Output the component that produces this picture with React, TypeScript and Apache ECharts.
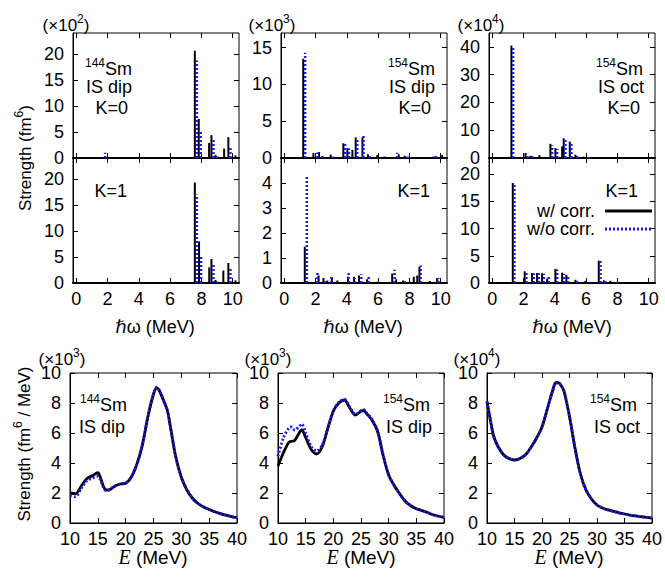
import React, { useEffect, useRef } from "react";
import * as echarts from "echarts";

const FONT = '"Liberation Sans", Arial, Helvetica, "DejaVu Sans", sans-serif';
const SERIF = '"Liberation Serif", "Times New Roman", serif';
const BLUE = "#1a1af0";

// ---- tick values ----
const X_TICKS_STICK = [0, 2, 4, 6, 8, 10];
const X_TICKS_CURVE = [10, 15, 20, 25, 30, 35, 40];
const Y_TICKS_A = [0, 5, 10, 15, 20];
const Y_TICKS_B1 = [0, 5, 10, 15];
const Y_TICKS_B2 = [0, 1, 2, 3, 4];
const Y_TICKS_C1 = [0, 10, 20, 30, 40];
const Y_TICKS_C2 = [0, 5, 10, 15, 20];
const Y_TICKS_CURVE = [0, 2, 4, 6, 8, 10];

// ---- 144Sm IS dip K=0 (x10^2 fm^6) ----
const A1_E_w = [7.58, 7.83, 8.49, 8.64, 8.9, 9.45, 9.72, 10.17];
const A1_S_w = [20.6, 7.5, 2.9, 4.4, 0.6, 1.8, 4.0, 0.5];
const A1_E_wo = [1.85, 7.71, 7.96, 8.77, 9.0, 9.85];
const A1_S_wo = [1.0, 18.7, 5.3, 3.7, 0.3, 1.9];

// ---- 144Sm IS dip K=1 ----
const A2_E_w = [7.58, 7.85, 8.5, 8.64, 8.9, 9.4, 9.72, 10.17];
const A2_S_w = [19.3, 8.0, 3.0, 4.6, 0.6, 2.4, 3.85, 0.5];
const A2_E_wo = [7.71, 7.98, 8.77, 9.0, 9.85];
const A2_S_wo = [17.0, 5.25, 3.7, 0.3, 2.7];

// ---- 154Sm IS dip K=0 (x10^3) ----
const B1_E_w = [1.22, 1.87, 2.23, 2.97, 3.78, 4.04, 4.36, 4.57, 5.0, 5.35, 5.95, 6.4, 7.32, 7.7, 9.55, 10.09];
const B1_S_w = [13.5, 0.7, 0.8, 0.45, 2.0, 1.35, 1.1, 2.8, 2.8, 0.5, 0.4, 0.2, 0.5, 0.3, 0.2, 0.4];
const B1_E_wo = [1.34, 2.13, 2.44, 3.1, 3.89, 4.14, 4.67, 5.07, 5.45, 7.22, 7.9, 9.7];
const B1_S_wo = [14.3, 0.75, 0.3, 0.2, 1.9, 1.3, 2.6, 3.0, 0.3, 0.7, 0.2, 0.3];

// ---- 154Sm IS dip K=1 ----
const B2_E_w = [1.32, 2.2, 2.51, 2.76, 3.05, 3.4, 4.08, 4.46, 4.78, 5.3, 5.95, 6.9, 7.15, 7.6, 8.28, 8.5, 8.64, 9.3, 9.77];
const B2_S_w = [1.45, 0.3, 0.2, 0.1, 0.2, 0.1, 0.25, 0.25, 0.3, 0.15, 0.05, 0.38, 0.15, 0.1, 0.25, 0.3, 0.65, 0.08, 0.2];
const B2_E_wo = [1.45, 2.13, 2.6, 3.02, 4.12, 4.5, 4.93, 5.4, 7.05, 7.7, 8.72, 9.85];
const B2_S_wo = [4.3, 0.4, 0.15, 0.25, 0.4, 0.2, 0.35, 0.25, 0.53, 0.1, 0.7, 0.2];

// ---- 154Sm IS oct K=0 (x10^4) ----
const C1_E_w = [1.23, 2.13, 2.45, 3.02, 3.72, 4.04, 4.47, 4.57, 4.96, 5.32, 5.85];
const C1_S_w = [40.5, 1.8, 0.8, 1.0, 5.1, 3.6, 4.2, 7.1, 5.9, 1.2, 0.5];
const C1_E_wo = [1.34, 2.25, 2.56, 3.83, 4.15, 4.68, 5.06, 5.43, 6.17];
const C1_S_wo = [40.0, 1.5, 0.8, 4.6, 3.2, 6.7, 5.5, 0.8, 0.3];

// ---- 154Sm IS oct K=1 ----
const C2_E_w = [1.32, 2.08, 2.55, 2.87, 3.19, 3.51, 4.04, 4.47, 4.74, 5.32, 5.96, 6.81, 7.13, 7.55];
const C2_S_w = [18.4, 2.15, 1.85, 1.85, 1.8, 0.8, 2.6, 1.9, 1.5, 0.6, 0.4, 4.1, 0.5, 0.4];
const C2_E_wo = [1.42, 2.19, 2.66, 2.98, 3.3, 3.62, 4.15, 4.58, 4.85, 5.43, 6.92, 7.24, 7.98];
const C2_S_wo = [18.4, 1.9, 1.8, 1.8, 1.7, 1.2, 2.5, 1.7, 1.3, 0.5, 4.2, 0.4, 0.2];

// ---- smeared strength functions ----
const D_E = [10, 11, 12, 13, 14, 15, 15.5, 16, 16.5, 17, 18, 19, 20, 21, 22, 23, 24, 25, 25.6, 26, 27, 27.5, 28, 29, 30, 31, 32, 33, 34, 35, 36, 37, 38, 39, 40];
const D_w = [2.0, 1.95, 2.45, 2.95, 3.15, 3.35, 3.0, 2.45, 2.2, 2.2, 2.45, 2.6, 2.65, 3.05, 3.9, 5.2, 7.1, 8.6, 9.0, 8.85, 8.0, 7.5, 6.5, 4.4, 3.05, 2.2, 1.65, 1.3, 1.07, 0.9, 0.75, 0.63, 0.52, 0.43, 0.36];
const D_wo = [1.85, 1.75, 2.3, 2.8, 3.0, 3.1, 2.85, 2.35, 2.15, 2.2, 2.45, 2.6, 2.65, 3.05, 3.9, 5.2, 7.1, 8.6, 9.05, 8.9, 8.0, 7.5, 6.5, 4.4, 3.05, 2.2, 1.65, 1.3, 1.07, 0.9, 0.75, 0.63, 0.52, 0.43, 0.36];

const E_E = [10, 11, 12, 12.5, 13, 14, 14.3, 15, 16, 17, 18, 19, 20, 21, 22, 23, 24, 25, 25.5, 26, 27, 28, 29, 30, 31, 32, 33, 34, 35, 36, 37, 38, 39, 40];
const E_w = [3.8, 4.7, 5.4, 5.45, 5.5, 6.1, 6.2, 5.7, 4.9, 4.6, 5.1, 6.3, 7.45, 8.0, 8.2, 7.65, 7.2, 7.45, 7.5, 7.3, 6.85, 6.1, 4.5, 3.2, 2.5, 1.95, 1.45, 1.15, 0.95, 0.83, 0.7, 0.55, 0.45, 0.38];
const E_wo = [4.45, 5.7, 6.35, 6.4, 6.2, 6.5, 6.6, 6.0, 5.1, 4.8, 5.2, 6.35, 7.5, 8.05, 8.25, 7.7, 7.25, 7.5, 7.55, 7.35, 6.9, 6.15, 4.55, 3.2, 2.5, 1.95, 1.45, 1.15, 0.95, 0.83, 0.7, 0.55, 0.45, 0.38];

const F_E = [10, 10.6, 11.2, 12, 13, 14, 15, 16, 17, 18, 19, 20, 21, 22, 22.5, 23, 23.5, 24, 25, 26, 27, 28, 29, 30, 31, 32, 33, 34, 35, 36, 37, 38, 39, 40];
const F_w = [8.1, 6.9, 5.8, 5.1, 4.55, 4.3, 4.2, 4.3, 4.55, 5.05, 5.65, 6.4, 7.65, 8.9, 9.35, 9.35, 9.15, 8.8, 7.1, 5.0, 3.25, 2.2, 1.6, 1.2, 1.0, 0.87, 0.78, 0.68, 0.6, 0.53, 0.47, 0.42, 0.37, 0.33];
const F_wo = [8.1, 6.9, 5.8, 5.1, 4.55, 4.3, 4.2, 4.3, 4.55, 5.05, 5.65, 6.4, 7.65, 8.9, 9.35, 9.35, 9.15, 8.8, 7.1, 5.0, 3.25, 2.2, 1.6, 1.2, 1.0, 0.87, 0.78, 0.68, 0.6, 0.53, 0.47, 0.42, 0.37, 0.33];

let measureCtx: CanvasRenderingContext2D | null = null;
function textWidth(t: string, size: number, family: string, italic: boolean) {
  if (!measureCtx) measureCtx = document.createElement("canvas").getContext("2d");
  if (!measureCtx) return t.length * size * 0.55;
  measureCtx.font = `${italic ? "italic " : ""}${size}px ${family}`;
  return measureCtx.measureText(t).width;
}

type Seg = { t: string; size?: number; dy?: number; family?: string; italic?: boolean };
function label(x: number, y: number, segs: Seg[], align = "left", rotation = 0) {
  const widths = segs.map((s) => textWidth(s.t, s.size ?? 18, s.family ?? FONT, !!s.italic));
  const total = widths.reduce((a, b) => a + b, 0);
  let cx = align === "left" ? 0 : align === "center" ? -total / 2 : -total;
  const children = segs.map((s, i) => {
    const el = {
      type: "text",
      x: cx,
      y: s.dy ?? 0,
      style: {
        text: s.t,
        fill: "#000",
        fontSize: s.size ?? 18,
        fontFamily: s.family ?? FONT,
        fontStyle: s.italic ? "italic" : "normal",
        align: "left",
        textAlign: "left",
        verticalAlign: "middle",
        textVerticalAlign: "middle",
      },
    };
    cx += widths[i];
    return el;
  });
  return { type: "group", x, y, rotation, children, silent: true };
}

const sup = (t: string): Seg => ({ t, size: 12, dy: -6 });

function buildOption() {
  const grids: any[] = [];
  const xAxes: any[] = [];
  const yAxes: any[] = [];
  const series: any[] = [];

  const tickStyle = { color: "#000", width: 1 };

  function addPanel(p: any) {
    const gi = grids.length;
    grids.push({
      left: p.left, top: p.top, width: p.w, height: p.h,
      show: true, borderColor: "#000", borderWidth: 1, backgroundColor: "transparent",
    });
    const xBase = {
      type: "value", gridIndex: gi, min: p.xmin, max: p.xmax,
      splitLine: { show: false },
      axisTick: { show: true, inside: true, length: 5, customValues: p.xt, lineStyle: tickStyle },
    };
    xAxes.push({
      ...xBase, position: "bottom",
      axisLine: { show: true, onZero: false, lineStyle: { color: "#000", width: p.base } },
      axisLabel: { show: p.xlab, customValues: p.xt, color: "#000", fontSize: 18, fontFamily: FONT, margin: 7 },
    });
    xAxes.push({
      ...xBase, position: "top",
      axisLine: { show: false, onZero: false },
      axisLabel: { show: false },
    });
    const yBase = {
      type: "value", gridIndex: gi, min: 0, max: p.ymax,
      splitLine: { show: false },
      axisTick: { show: true, inside: true, length: 5, customValues: p.yt, lineStyle: tickStyle },
    };
    yAxes.push({
      ...yBase, position: "left",
      axisLine: { show: true, onZero: false, lineStyle: { color: "#000", width: 1 } },
      axisLabel: { show: true, customValues: p.yt, color: "#000", fontSize: 18, fontFamily: FONT, margin: 9 },
    });
    yAxes.push({
      ...yBase, position: "right",
      axisLine: { show: false, onZero: false },
      axisLabel: { show: false },
    });
    return gi;
  }

  function sticks(gi: number, E: number[], S: number[], color: string, width: number, dash: number[] | null) {
    series.push({
      type: "custom", xAxisIndex: 2 * gi, yAxisIndex: 2 * gi,
      data: E.map((e, i) => [e, S[i]]),
      encode: { x: 0, y: 1 }, clip: true, silent: true,
      renderItem: (_params: any, api: any) => {
        const a = api.coord([api.value(0), 0]);
        const b = api.coord([api.value(0), api.value(1)]);
        return {
          type: "line",
          shape: { x1: a[0], y1: a[1], x2: b[0], y2: b[1] },
          style: { stroke: color, lineWidth: width, lineDash: dash || undefined },
        };
      },
    });
  }

  function curve(gi: number, E: number[], S: number[], color: string, dash: number[] | null) {
    series.push({
      type: "line", xAxisIndex: 2 * gi, yAxisIndex: 2 * gi,
      data: E.map((e, i) => [e, S[i]]),
      symbol: "none", showSymbol: false, smooth: 0.3, clip: true, silent: true,
      lineStyle: { color, width: 2.8, type: dash || "solid" },
    });
  }

  const stickPanels = [
    { left: 73, top: 33, ymax: 24, yt: Y_TICKS_A, xlab: false, d: [A1_E_w, A1_S_w, A1_E_wo, A1_S_wo] },
    { left: 73, top: 158, ymax: 24, yt: Y_TICKS_A, xlab: true, d: [A2_E_w, A2_S_w, A2_E_wo, A2_S_wo] },
    { left: 281, top: 33, ymax: 17, yt: Y_TICKS_B1, xlab: false, d: [B1_E_w, B1_S_w, B1_E_wo, B1_S_wo] },
    { left: 281, top: 158, ymax: 5, yt: Y_TICKS_B2, xlab: true, d: [B2_E_w, B2_S_w, B2_E_wo, B2_S_wo] },
    { left: 489, top: 33, ymax: 45, yt: Y_TICKS_C1, xlab: false, d: [C1_E_w, C1_S_w, C1_E_wo, C1_S_wo] },
    { left: 489, top: 158, ymax: 23, yt: Y_TICKS_C2, xlab: true, d: [C2_E_w, C2_S_w, C2_E_wo, C2_S_wo] },
  ];
  stickPanels.forEach((p) => {
    const gi = addPanel({ ...p, w: 166, h: 125, xmin: -0.2, xmax: 10.4, xt: X_TICKS_STICK, base: 2 });
    sticks(gi, p.d[0], p.d[1], "#000", 2, null);
    sticks(gi, p.d[2], p.d[3], BLUE, 2.5, [2, 2]);
  });

  const curvePanels = [
    { left: 70, w: 167, d: [D_E, D_w, D_wo] },
    { left: 278, w: 166, d: [E_E, E_w, E_wo] },
    { left: 487, w: 165, d: [F_E, F_w, F_wo] },
  ];
  curvePanels.forEach((p) => {
    const gi = addPanel({ left: p.left, top: 373, w: p.w, h: 150, xmin: 10, xmax: 40, xt: X_TICKS_CURVE, xlab: true, ymax: 10, yt: Y_TICKS_CURVE, base: 1 });
    curve(gi, p.d[0], p.d[1], "#000", null);
    curve(gi, p.d[0], p.d[2], BLUE, [2, 2]);
  });

  const g: any[] = [];
  // multipliers
  const mult = (x: number, y: number, e: string) =>
    label(x, y, [{ t: "(\u00d710", size: 17 }, { t: e, size: 12, dy: -6 }, { t: ")", size: 17 }], "center");
  g.push(mult(66, 25, "2"), mult(272, 25, "3"), mult(481, 25, "4"));
  g.push(mult(62, 359, "3"), mult(268, 359, "3"), mult(477, 359, "4"));

  // panel annotations
  const nuc = (xr: number, y: number, a: string) => label(xr, y, [sup(a), { t: "Sm" }], "right");
  const txt = (xr: number, y: number, t: string) => label(xr, y, [{ t }], "right");
  g.push(nuc(132, 69, "144"), txt(132, 87, "IS dip"), txt(128, 108, "K=0"));
  g.push(txt(127, 191, "K=1"));
  g.push(nuc(435, 69, "154"), txt(435, 87, "IS dip"), txt(431, 108, "K=0"));
  g.push(txt(430, 191, "K=1"));
  g.push(nuc(643, 69, "154"), txt(644, 87, "IS oct"), txt(640, 108, "K=0"));
  g.push(txt(638, 191, "K=1"));
  g.push(nuc(127, 405, "144"), txt(125, 427, "IS dip"));
  g.push(nuc(430, 405, "154"), txt(432, 427, "IS dip"));
  g.push(nuc(637, 405, "154"), txt(640, 427, "IS oct"));

  // legend
  g.push(txt(595, 211, "w/ corr."), txt(595, 229, "w/o corr."));
  g.push({ type: "line", silent: true, shape: { x1: 605, y1: 211, x2: 652, y2: 211 }, style: { stroke: "#000", lineWidth: 3 } });
  g.push({ type: "line", silent: true, shape: { x1: 605, y1: 229, x2: 652, y2: 229 }, style: { stroke: BLUE, lineWidth: 3, lineDash: [2, 2] } });

  // axis titles
  const hw = [{ t: "\u210f\u03c9 (MeV)", size: 18 }];
  g.push(label(155, 327, hw, "center"), label(363, 327, hw, "center"), label(572, 327, hw, "center"));
  const em = [{ t: "E", size: 20, family: SERIF, italic: true }, { t: " (MeV)", size: 19 }];
  g.push(label(153, 557, em, "center"), label(361, 557, em, "center"), label(569, 557, em, "center"));
  g.push(label(25, 158, [{ t: "Strength (fm", size: 17 }, { t: "6", size: 12, dy: -6 }, { t: ")", size: 17 }], "center", Math.PI / 2));
  g.push(label(24, 444, [{ t: "Strength (fm", size: 17 }, { t: "6", size: 12, dy: -6 }, { t: " / MeV)", size: 17 }], "center", Math.PI / 2));

  return { animation: false, grid: grids, xAxis: xAxes, yAxis: yAxes, series, graphic: g };
}

export default function App() {
  const ref = useRef<HTMLDivElement>(null);
  useEffect(() => {
    document.body.style.margin = "0";
    if (!ref.current) return;
    const chart = echarts.init(ref.current, undefined, { renderer: "svg" });
    chart.setOption(buildOption() as any);
    return () => chart.dispose();
  }, []);
  return <div ref={ref} style={{ width: 665, height: 579, background: "#fff" }} />;
}
